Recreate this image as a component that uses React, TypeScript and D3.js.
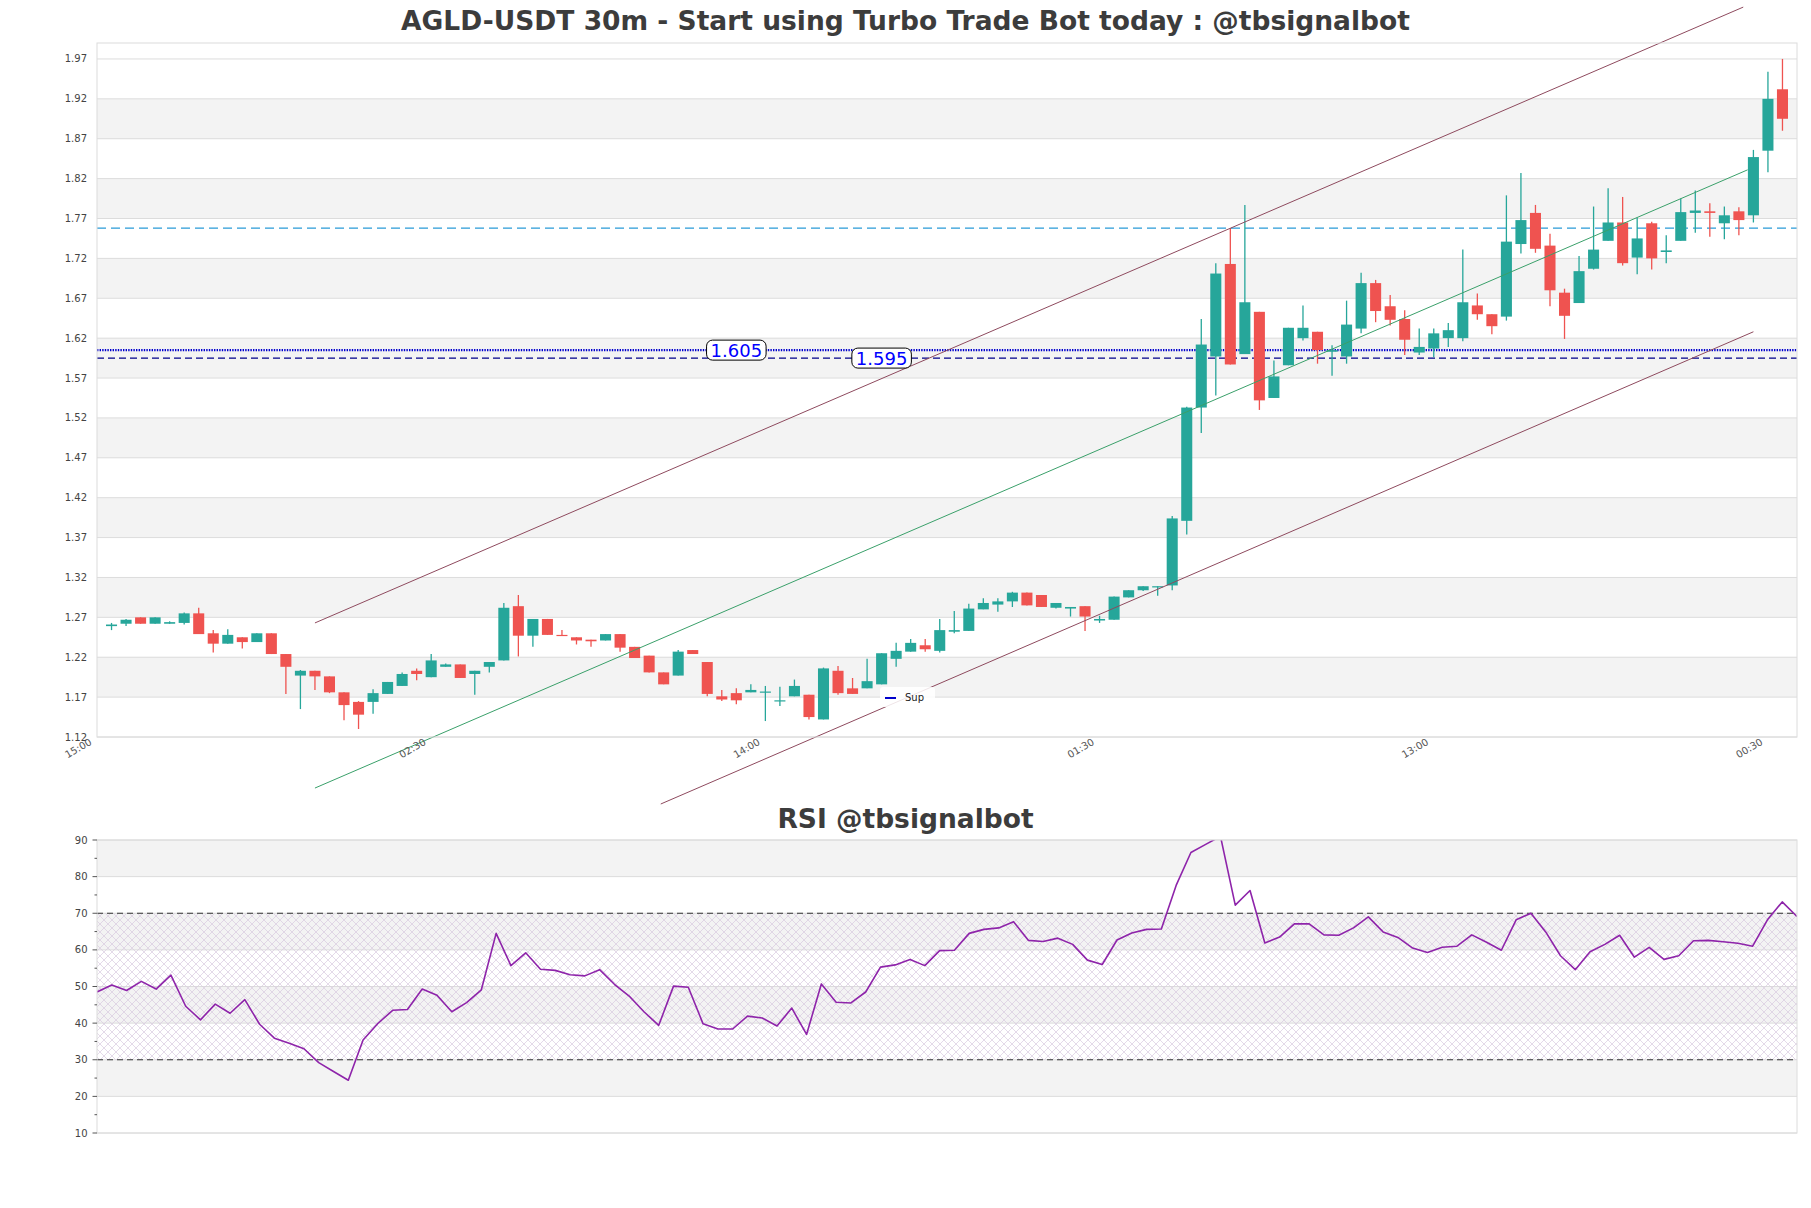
import { useEffect, useRef } from 'react';
import * as d3 from 'd3';

// 30m candles
const OPENS = [
  1.259, 1.262, 1.270, 1.262, 1.262, 1.263, 1.275, 1.250, 1.237, 1.245,
  1.239, 1.250, 1.224, 1.197, 1.203, 1.196, 1.176, 1.164, 1.164, 1.174,
  1.184, 1.203, 1.195, 1.208, 1.211, 1.199, 1.208, 1.216, 1.284, 1.247,
  1.268, 1.248, 1.245, 1.242, 1.241, 1.249, 1.233, 1.222, 1.201, 1.197,
  1.229, 1.214, 1.171, 1.175, 1.176, 1.176, 1.165, 1.171, 1.173, 1.142,
  1.203, 1.181, 1.181, 1.186, 1.218, 1.227, 1.235, 1.228, 1.252, 1.253,
  1.280, 1.286, 1.290, 1.301, 1.298, 1.282, 1.281, 1.284, 1.266, 1.267,
  1.295, 1.304, 1.308, 1.310, 1.391, 1.533, 1.597, 1.713, 1.600, 1.653,
  1.545, 1.586, 1.620, 1.628, 1.603, 1.597, 1.632, 1.689, 1.660, 1.644,
  1.602, 1.607, 1.620, 1.620, 1.661, 1.650, 1.647, 1.738, 1.777, 1.736,
  1.677, 1.664, 1.707, 1.742, 1.765, 1.721, 1.764, 1.728, 1.742, 1.777,
  1.779, 1.764, 1.779, 1.774, 1.855, 1.932,
];
const HIGHS = [
  1.263, 1.268, 1.270, 1.270, 1.265, 1.276, 1.282, 1.254, 1.255, 1.245,
  1.250, 1.250, 1.224, 1.204, 1.203, 1.196, 1.176, 1.165, 1.180, 1.189,
  1.201, 1.206, 1.224, 1.212, 1.211, 1.203, 1.214, 1.288, 1.298, 1.268,
  1.268, 1.254, 1.245, 1.242, 1.249, 1.249, 1.233, 1.222, 1.201, 1.229,
  1.229, 1.214, 1.179, 1.181, 1.186, 1.184, 1.183, 1.192, 1.173, 1.207,
  1.209, 1.194, 1.218, 1.225, 1.238, 1.243, 1.243, 1.268, 1.278, 1.287,
  1.294, 1.294, 1.302, 1.301, 1.298, 1.288, 1.283, 1.284, 1.272, 1.296,
  1.304, 1.309, 1.309, 1.397, 1.534, 1.644, 1.714, 1.758, 1.787, 1.653,
  1.592, 1.633, 1.661, 1.628, 1.611, 1.667, 1.702, 1.693, 1.674, 1.655,
  1.632, 1.632, 1.639, 1.731, 1.676, 1.650, 1.799, 1.827, 1.787, 1.751,
  1.682, 1.723, 1.785, 1.808, 1.797, 1.771, 1.766, 1.749, 1.795, 1.805,
  1.789, 1.785, 1.784, 1.856, 1.954, 1.970,
];
const LOWS = [
  1.254, 1.259, 1.262, 1.262, 1.262, 1.261, 1.249, 1.226, 1.237, 1.231,
  1.239, 1.224, 1.174, 1.155, 1.179, 1.175, 1.141, 1.130, 1.149, 1.174,
  1.184, 1.191, 1.195, 1.208, 1.194, 1.173, 1.201, 1.216, 1.221, 1.233,
  1.248, 1.247, 1.236, 1.233, 1.241, 1.227, 1.219, 1.201, 1.186, 1.197,
  1.224, 1.171, 1.165, 1.161, 1.176, 1.140, 1.159, 1.171, 1.142, 1.142,
  1.173, 1.174, 1.181, 1.186, 1.208, 1.227, 1.227, 1.226, 1.250, 1.253,
  1.280, 1.277, 1.283, 1.285, 1.283, 1.281, 1.271, 1.253, 1.263, 1.267,
  1.295, 1.303, 1.297, 1.304, 1.374, 1.501, 1.548, 1.587, 1.600, 1.530,
  1.545, 1.586, 1.617, 1.588, 1.573, 1.588, 1.626, 1.640, 1.636, 1.599,
  1.599, 1.596, 1.609, 1.616, 1.643, 1.625, 1.642, 1.726, 1.727, 1.660,
  1.619, 1.664, 1.706, 1.742, 1.711, 1.700, 1.706, 1.714, 1.742, 1.752,
  1.747, 1.744, 1.749, 1.765, 1.828, 1.880,
];
const CLOSES = [
  1.261, 1.267, 1.262, 1.270, 1.264, 1.275, 1.249, 1.237, 1.248, 1.239,
  1.250, 1.224, 1.208, 1.203, 1.196, 1.176, 1.160, 1.148, 1.175, 1.189,
  1.199, 1.199, 1.216, 1.211, 1.194, 1.203, 1.214, 1.282, 1.247, 1.268,
  1.248, 1.247, 1.241, 1.240, 1.249, 1.232, 1.219, 1.201, 1.186, 1.227,
  1.224, 1.174, 1.167, 1.166, 1.179, 1.177, 1.166, 1.184, 1.145, 1.206,
  1.175, 1.174, 1.190, 1.225, 1.228, 1.238, 1.230, 1.254, 1.254, 1.281,
  1.288, 1.290, 1.301, 1.285, 1.283, 1.288, 1.283, 1.271, 1.268, 1.296,
  1.304, 1.309, 1.309, 1.394, 1.533, 1.612, 1.701, 1.587, 1.665, 1.542,
  1.572, 1.633, 1.633, 1.605, 1.605, 1.637, 1.689, 1.654, 1.643, 1.618,
  1.609, 1.626, 1.630, 1.665, 1.650, 1.635, 1.741, 1.768, 1.732, 1.680,
  1.648, 1.704, 1.731, 1.765, 1.714, 1.745, 1.720, 1.730, 1.778, 1.780,
  1.777, 1.774, 1.768, 1.847, 1.920, 1.895,
];

const RSI = [
  48.5, 50.4, 48.9, 51.4, 49.3, 53.1, 44.6, 40.9, 45.2, 42.7,
  46.4, 39.7, 35.9, 34.5, 33.0, 29.2, 26.8, 24.4, 35.4, 39.9,
  43.5, 43.7, 49.3, 47.6, 43.1, 45.6, 49.1, 64.5, 55.7, 59.2,
  54.7, 54.4, 53.2, 52.9, 54.6, 50.6, 47.4, 43.1, 39.4, 50.1,
  49.8, 39.8, 38.4, 38.4, 41.9, 41.4, 39.2, 44.1, 36.9, 50.7,
  45.7, 45.5, 48.5, 55.3, 55.9, 57.4, 55.7, 59.8, 59.9, 64.5,
  65.6, 66.0, 67.7, 62.6, 62.3, 63.2, 61.5, 57.2, 56.0, 62.7,
  64.6, 65.6, 65.7, 77.6, 86.6, 88.8, 91.0, 72.2, 76.2, 61.9,
  63.5, 67.1, 67.1, 64.1, 64.0, 66.0, 69.0, 64.9, 63.4, 60.5,
  59.3, 60.7, 61.0, 64.1, 62.1, 59.9, 68.2, 70.0, 64.9, 58.4,
  54.6, 59.5, 61.5, 64.0, 58.0, 60.7, 57.4, 58.4, 62.5, 62.6,
  62.2, 61.8, 61.0, 68.2, 73.1, 69.1,
];

const PRICE_TICKS = [1.12, 1.17, 1.22, 1.27, 1.32, 1.37, 1.42, 1.47, 1.52, 1.57, 1.62, 1.67, 1.72, 1.77, 1.82, 1.87, 1.92, 1.97];
const TIME_LABELS = ['15:00', '02:30', '14:00', '01:30', '13:00', '00:30'];
const TIME_TICK_INDEX = [-1, 22, 45, 68, 91, 114];
const RSI_TICKS = [10, 20, 30, 40, 50, 60, 70, 80, 90];
const RSI_MINOR = [15, 25, 35, 45, 55, 65, 75, 85];

// horizontal levels: resistance, support (dotted), support (dashed)
const LEVELS = [1.758, 1.605, 1.595];
const LEVEL_LABEL_INDEX = [43, 53];
const LEVEL_LABEL_VALUE = [1.605, 1.595];

// channel lines: [x1 index, y1 price, x2 index, y2 price]
const UPPER_LINE = [14, 1.263, 112.3, 2.035];
const MID_LINE = [14, 1.056, 112.6, 1.831];
const LOWER_LINE = [37.8, 1.036, 113, 1.628];

const W = 1811;
const H = 1208;
const LEFT = 97;
const RIGHT = 1797;
const MAIN_TOP = 43;
const MAIN_BOTTOM = 737;
const RSI_TOP = 840;
const RSI_BOTTOM = 1133;

const UP = '#26a69a';
const DOWN = '#ef5350';
const BAND = '#f3f3f3';
const GRID = '#dcdcdc';
const FONT = '"DejaVu Sans", sans-serif';

const App = () => {
  const svgRef = useRef<SVGSVGElement>(null);

  useEffect(() => {
    document.body.style.margin = '0';
    const n = OPENS.length;
    const svg = d3.select(svgRef.current);
    svg.selectAll('*').remove();

    const x = d3.scaleLinear().domain([-1, n]).range([LEFT, RIGHT]);
    const y = d3.scaleLinear().domain([1.12, 1.99]).range([MAIN_BOTTOM, MAIN_TOP]);
    const xr = d3.scaleLinear().domain([0, n - 1]).range([LEFT, RIGHT]);
    const yr = d3.scaleLinear().domain([10, 90]).range([RSI_BOTTOM, RSI_TOP]);

    const defs = svg.append('defs');
    defs.append('clipPath').attr('id', 'rsi-clip')
      .append('rect').attr('x', LEFT).attr('y', RSI_TOP)
      .attr('width', RIGHT - LEFT).attr('height', RSI_BOTTOM - RSI_TOP);
    const hatch = defs.append('pattern').attr('id', 'hatch')
      .attr('patternUnits', 'userSpaceOnUse').attr('width', 8).attr('height', 8);
    hatch.append('path').attr('d', 'M0,0 L8,8 M8,0 L0,8 M-2,6 L2,10 M6,-2 L10,2 M-2,2 L2,-2 M6,10 L10,6')
      .attr('stroke', '#d9cadf').attr('stroke-width', 0.7).attr('fill', 'none');

    // ---------- main panel ----------
    const main = svg.append('g');
    const bandPairs = d3.pairs(PRICE_TICKS);
    main.selectAll('rect.band')
      .data(bandPairs.filter((_, i) => i % 2 === 1))
      .enter().append('rect')
      .attr('x', LEFT).attr('width', RIGHT - LEFT)
      .attr('y', d => y(d[1])).attr('height', d => y(d[0]) - y(d[1]))
      .attr('fill', BAND);
    main.selectAll('line.grid')
      .data(PRICE_TICKS).enter().append('line')
      .attr('x1', LEFT).attr('x2', RIGHT)
      .attr('y1', d => y(d)).attr('y2', d => y(d))
      .attr('stroke', GRID).attr('stroke-width', 1);

    // levels below candles
    main.append('line')
      .attr('x1', LEFT).attr('x2', RIGHT).attr('y1', y(LEVELS[0])).attr('y2', y(LEVELS[0]))
      .attr('stroke', '#2a9bd8').attr('stroke-width', 1.3).attr('stroke-dasharray', '9 5');
    main.append('line')
      .attr('x1', LEFT).attr('x2', RIGHT).attr('y1', y(LEVELS[1])).attr('y2', y(LEVELS[1]))
      .attr('stroke', '#0000cc').attr('stroke-width', 2.2).attr('stroke-dasharray', '1.4 1.2');
    main.append('line')
      .attr('x1', LEFT).attr('x2', RIGHT).attr('y1', y(LEVELS[2])).attr('y2', y(LEVELS[2]))
      .attr('stroke', '#00008b').attr('stroke-width', 1.2).attr('stroke-dasharray', '7 4');

    const idx = d3.range(n);
    const bodyW = (x(1) - x(0)) * 0.76;
    const color = (i: number) => (CLOSES[i] >= OPENS[i] ? UP : DOWN);
    main.selectAll('line.wick')
      .data(idx).enter().append('line')
      .attr('x1', i => x(i)).attr('x2', i => x(i))
      .attr('y1', i => y(HIGHS[i])).attr('y2', i => y(LOWS[i]))
      .attr('stroke', i => color(i)).attr('stroke-width', 1.3);
    main.selectAll('rect.body')
      .data(idx).enter().append('rect')
      .attr('x', i => x(i) - bodyW / 2).attr('width', bodyW)
      .attr('y', i => y(Math.max(OPENS[i], CLOSES[i])))
      .attr('height', i => Math.max(1.2, Math.abs(y(OPENS[i]) - y(CLOSES[i]))))
      .attr('fill', i => color(i));

    // channel (drawn unclipped, like the original)
    const seg = (l: number[], c: string) =>
      main.append('line')
        .attr('x1', x(l[0])).attr('y1', y(l[1]))
        .attr('x2', x(l[2])).attr('y2', y(l[3]))
        .attr('stroke', c).attr('stroke-width', 1);
    seg(UPPER_LINE, '#8e4a5e');
    seg(MID_LINE, '#3aa06a');
    seg(LOWER_LINE, '#8e4a5e');

    main.append('rect')
      .attr('x', LEFT).attr('y', MAIN_TOP).attr('width', RIGHT - LEFT).attr('height', MAIN_BOTTOM - MAIN_TOP)
      .attr('fill', 'none').attr('stroke', GRID);

    // level labels
    LEVEL_LABEL_INDEX.forEach((li, k) => {
      const g = main.append('g').attr('transform', `translate(${x(li)},${y(LEVEL_LABEL_VALUE[k])})`);
      const t = g.append('text')
        .attr('text-anchor', 'middle').attr('dy', '0.36em')
        .attr('font-family', FONT).attr('font-size', 18).attr('fill', '#0000ff')
        .text(LEVEL_LABEL_VALUE[k].toFixed(3));
      const bb = (t.node() as SVGTextElement).getBBox();
      g.insert('rect', 'text')
        .attr('x', bb.x - 4).attr('y', -10).attr('width', bb.width + 8).attr('height', 20)
        .attr('rx', 6).attr('fill', 'white').attr('stroke', '#000').attr('stroke-width', 1);
    });

    // legend
    const lg = main.append('g').attr('transform', 'translate(880,687)');
    lg.append('rect').attr('width', 55).attr('height', 20).attr('rx', 3)
      .attr('fill', 'white').attr('fill-opacity', 0.85);
    lg.append('line').attr('x1', 5).attr('x2', 16).attr('y1', 11).attr('y2', 11)
      .attr('stroke', '#0000cc').attr('stroke-width', 2);
    lg.append('text').attr('x', 25).attr('y', 13.5)
      .attr('font-family', FONT).attr('font-size', 10).attr('fill', '#222').text('Sup');

    // axes text
    main.selectAll('text.ytick')
      .data(PRICE_TICKS).enter().append('text')
      .attr('x', LEFT - 10).attr('y', d => y(d)).attr('dy', '0.35em')
      .attr('text-anchor', 'end').attr('font-family', FONT).attr('font-size', 10).attr('fill', '#444')
      .text(d => d.toFixed(2));
    main.selectAll('text.xtick')
      .data(TIME_TICK_INDEX).enter().append('text')
      .attr('transform', d => `translate(${x(d) - 4.5},${MAIN_BOTTOM + 7}) rotate(-30)`)
      .attr('text-anchor', 'end').attr('font-family', FONT).attr('font-size', 10).attr('fill', '#555')
      .text((_, i) => TIME_LABELS[i]);

    svg.append('text')
      .attr('x', W / 2).attr('y', 29.5).attr('text-anchor', 'middle')
      .attr('font-family', FONT).attr('font-size', 26.5).attr('font-weight', 'bold').attr('fill', '#3c3c3c')
      .text('AGLD-USDT 30m - Start using Turbo Trade Bot today : @tbsignalbot');

    // ---------- RSI panel ----------
    const rs = svg.append('g');
    rs.selectAll('rect.band')
      .data(d3.pairs(RSI_TICKS).filter((_, i) => i % 2 === 1))
      .enter().append('rect')
      .attr('x', LEFT).attr('width', RIGHT - LEFT)
      .attr('y', d => yr(d[1])).attr('height', d => yr(d[0]) - yr(d[1]))
      .attr('fill', BAND);
    rs.selectAll('line.grid')
      .data(RSI_TICKS).enter().append('line')
      .attr('x1', LEFT).attr('x2', RIGHT)
      .attr('y1', d => yr(d)).attr('y2', d => yr(d))
      .attr('stroke', GRID);
    rs.append('rect')
      .attr('x', LEFT).attr('width', RIGHT - LEFT)
      .attr('y', yr(70)).attr('height', yr(30) - yr(70))
      .attr('fill', 'url(#hatch)');
    [30, 70].forEach(v => {
      rs.append('line')
        .attr('x1', LEFT).attr('x2', RIGHT).attr('y1', yr(v)).attr('y2', yr(v))
        .attr('stroke', '#333').attr('stroke-width', 1).attr('stroke-dasharray', '6 4');
    });
    const rsiLine = d3.line<number>().x((_, i) => xr(i)).y(d => yr(d));
    rs.append('path')
      .attr('d', rsiLine(RSI))
      .attr('clip-path', 'url(#rsi-clip)')
      .attr('fill', 'none').attr('stroke', '#8e24aa').attr('stroke-width', 1.6)
      .attr('stroke-linejoin', 'round');
    rs.append('rect')
      .attr('x', LEFT).attr('y', RSI_TOP).attr('width', RIGHT - LEFT).attr('height', RSI_BOTTOM - RSI_TOP)
      .attr('fill', 'none').attr('stroke', GRID);
    rs.selectAll('line.tick')
      .data(RSI_TICKS).enter().append('line')
      .attr('x1', LEFT - 4.5).attr('x2', LEFT).attr('y1', d => yr(d)).attr('y2', d => yr(d))
      .attr('stroke', '#555');
    rs.selectAll('line.minor')
      .data(RSI_MINOR).enter().append('line')
      .attr('x1', LEFT - 2.5).attr('x2', LEFT).attr('y1', d => yr(d)).attr('y2', d => yr(d))
      .attr('stroke', '#555');
    rs.selectAll('text.ytick')
      .data(RSI_TICKS).enter().append('text')
      .attr('x', LEFT - 9.5).attr('y', d => yr(d)).attr('dy', '0.35em')
      .attr('text-anchor', 'end').attr('font-family', FONT).attr('font-size', 10).attr('fill', '#444')
      .text(d => d);

    svg.append('text')
      .attr('x', W / 2).attr('y', 828).attr('text-anchor', 'middle')
      .attr('font-family', FONT).attr('font-size', 26.5).attr('font-weight', 'bold').attr('fill', '#3c3c3c')
      .text('RSI @tbsignalbot');
  }, []);

  return (
    <div style={{ width: W, height: H, background: '#fff' }}>
      <svg ref={svgRef} width={W} height={H} style={{ display: 'block' }} />
    </div>
  );
};

export default App;
